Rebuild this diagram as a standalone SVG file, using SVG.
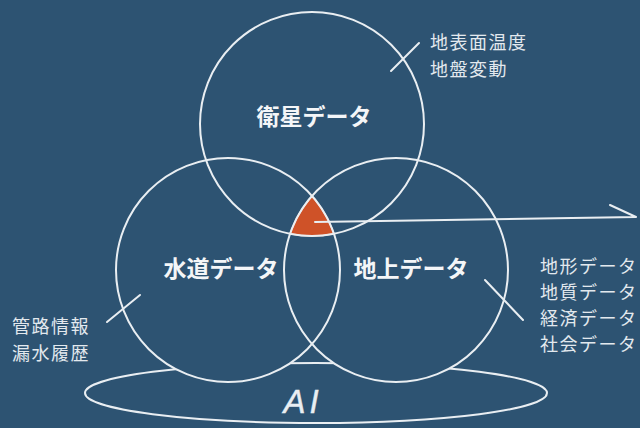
<svg xmlns="http://www.w3.org/2000/svg" width="640" height="428" viewBox="0 0 640 428">
<style>
.bg{fill:#2d5372}
.ring{fill:none;stroke:#e9eef2;stroke-width:2}
.mask{fill:#2d5372;stroke:none}
.lbl{font-family:"Noto Sans CJK JP","Noto Sans",sans-serif;font-weight:bold;font-size:23px;fill:#f4f6f8;text-anchor:middle}
.note{font-family:"Noto Sans CJK JP","Noto Sans",sans-serif;font-size:18px;fill:#e3e9ee;letter-spacing:1.5px}
.ptr{stroke:#e9eef2;stroke-width:2;fill:none;stroke-linecap:round}
</style>
<rect class="bg" x="0" y="0" width="640" height="428"/>
<g id="node-ai">
  <ellipse class="ring" cx="316" cy="393" rx="231" ry="30"/>
  <text x="303" y="413" font-family="Liberation Sans, Arial, sans-serif" font-style="italic" font-size="33" fill="#e9eef2" stroke="#e9eef2" stroke-width="0.4" text-anchor="middle" letter-spacing="4">AI</text>
</g>
<g id="fills">
  <circle class="mask" cx="312" cy="124" r="112"/>
  <circle class="mask" cx="228" cy="270" r="112"/>
  <circle class="mask" cx="396" cy="270" r="112"/>
  <path d="M312,196 A112,112 0 0,0 290,233.8 A112,112 0 0,0 334,233.8 A112,112 0 0,0 312,196 Z" fill="#cf5228" stroke="#f2c9b6" stroke-width="1.5"/>
</g>
<g id="node-satellite">
  <circle class="ring" cx="312" cy="124" r="112"/>
  <text class="lbl" x="314" y="125">衛星データ</text>
</g>
<g id="node-water">
  <circle class="ring" cx="228" cy="270" r="112"/>
  <text class="lbl" x="221" y="277">水道データ</text>
</g>
<g id="node-ground">
  <circle class="ring" cx="396" cy="270" r="112"/>
  <text class="lbl" x="411" y="277">地上データ</text>
</g>
<g id="notes">
  <text class="note" x="430" y="49" letter-spacing="3">地表面温度</text>
  <text class="note" x="430" y="76" letter-spacing="3">地盤変動</text>
  <text class="note" x="12" y="333">管路情報</text>
  <text class="note" x="12" y="360">漏水履歴</text>
  <text class="note" x="540" y="273">地形データ</text>
  <text class="note" x="540" y="299">地質データ</text>
  <text class="note" x="540" y="325">経済データ</text>
  <text class="note" x="540" y="351">社会データ</text>
</g>
<g id="connectors">
  <line class="ptr" x1="419" y1="43" x2="391" y2="71"/>
  <line class="ptr" x1="107" y1="322" x2="140" y2="295"/>
  <line class="ptr" x1="485" y1="280" x2="523" y2="320"/>
  <path class="ptr" d="M315,222 L636,217 M610,205 L636,217"/>
</g>
</svg>
